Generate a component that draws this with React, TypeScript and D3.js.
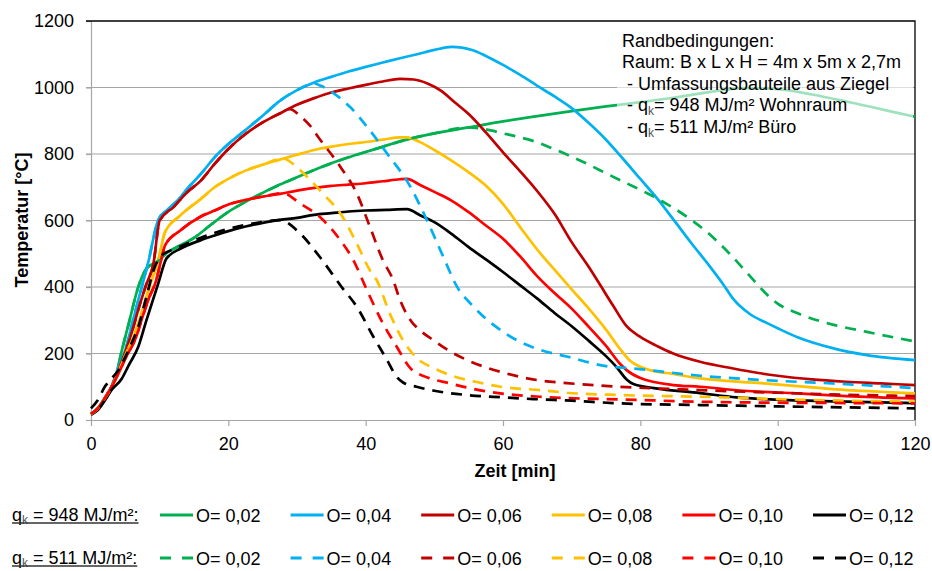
import React, { useEffect, useRef } from 'react';
import * as d3 from 'd3';

type Pt = [number, number];

// axis ticks
const xTicks = [0, 20, 40, 60, 80, 100, 120];
const yTicks = [0, 200, 400, 600, 800, 1000, 1200];

// q_k = 948 MJ/m² (solid), [Zeit min, Temperatur °C]
const o002_948: Pt[] = [[0,18],[1,35],[2,65],[3,100],[3.7,140],[4.5,210],[5.5,290],[6.9,401],[8.1,456],[9.6,476],[11.3,506],[13,525],[15,548],[17.5,588],[20,626],[22.5,656],[25,683],[27.5,708],[30,730],[32.5,752],[35,772],[37.5,790],[40,806],[42.5,822],[45,838],[50,862],[55,880],[60,898],[65,914],[70,929],[75,943],[80,956],[85,970],[90,986],[95,998],[100,995],[105,979],[110,958],[115,935],[120,912]];
const o004_948: Pt[] = [[0,18],[1,35],[2,65],[3,100],[4,160],[5,211],[6,290],[7,370],[8.3,471],[9.8,602],[11,630],[12.7,662],[14,695],[16,740],[18,790],[20,830],[22.5,872],[25,915],[27.5,960],[30,992],[32.5,1015],[35,1032],[37.5,1048],[40,1062],[42.5,1075],[45,1088],[47.5,1100],[50,1113],[52.5,1122],[54,1120],[55.5,1113],[57.5,1095],[60,1068],[62.5,1038],[65,1005],[67.5,973],[70,938],[72.5,893],[75,843],[77.5,785],[80,725],[82.5,665],[85,598],[87.5,530],[90,465],[92,410],[93.5,365],[96,318],[98.4,292],[100,276],[103,248],[108,216],[113,195],[120,180]];
const o006_948: Pt[] = [[0,18],[1,35],[2,65],[3,100],[4,150],[5,205],[5.9,261],[7,340],[8,405],[9.1,471],[10,600],[12,640],[14,685],[16,720],[18,770],[20,815],[22.5,860],[25,895],[27.5,922],[30,948],[32.5,968],[35,985],[37.5,997],[40,1008],[42.5,1018],[45,1026],[47,1024],[49,1012],[51,990],[53,955],[55,920],[57.5,865],[60,805],[62.5,748],[65,688],[67.5,620],[70,535],[72.5,460],[74,411],[76,345],[78,282],[80,250],[82.5,222],[84.8,200],[88.7,175],[93.5,155],[97,142],[100,133],[105,122],[110,115],[115,110],[120,105]];
const o008_948: Pt[] = [[0,18],[1,35],[2,65],[3,100],[4,145],[5,195],[6.4,261],[7.5,330],[8.5,400],[9.8,481],[10.8,566],[13,615],[16,665],[18,700],[20,725],[22.5,750],[25,768],[27.5,783],[30,798],[32.5,812],[35,822],[37.5,830],[40,836],[42.5,843],[45,850],[46,850],[48,835],[50,812],[52.5,780],[55,745],[57.5,705],[60,650],[62.5,580],[65,512],[67.5,452],[70,393],[72.5,335],[75,272],[77,215],[78.5,178],[80,160],[81.4,150],[85,138],[88.7,125],[93,117],[98,110],[105,98],[110,90],[115,85],[120,80]];
const o010_948: Pt[] = [[0,18],[1,35],[2,65],[3,100],[4,140],[5,185],[6.6,251],[7.5,310],[8.5,370],[9.5,420],[10.2,480],[10.8,526],[13,570],[16,612],[18,630],[20,648],[22.5,662],[25,672],[27.5,680],[30,690],[32.5,698],[35,704],[37.5,708],[40,712],[42.5,718],[45,724],[46,725],[48,706],[50,686],[52.5,660],[55,625],[57.5,585],[60,545],[62.5,492],[65,432],[67.5,382],[70,335],[72.5,280],[75,223],[77,170],[78,150],[80,126],[84.8,105],[88.7,100],[95,88],[103,80],[110,72],[120,65]];
const o012_948: Pt[] = [[0,16],[1,30],[2,58],[3,90],[4.5,125],[5.5,165],[6.9,221],[8,295],[9,360],[9.8,411],[11,486],[13,515],[16,541],[18,555],[20,568],[22.5,582],[25,593],[27.5,602],[30,608],[32.5,617],[35,622],[37.5,627],[40,630],[43,632],[46,634],[48,615],[50,595],[52.5,560],[55,520],[57.5,483],[60,445],[62.5,405],[65,365],[67.5,322],[70,282],[72.5,238],[75,192],[76.5,160],[78,122],[79,108],[82,96],[88.7,81],[94,68],[100,61],[110,55],[120,51]];

// q_k = 511 MJ/m² (dashed)
const o002_511: Pt[] = [[0,18],[1,35],[2,65],[3,100],[3.7,140],[4.5,210],[5.5,290],[6.9,401],[8.1,456],[9.6,476],[11.3,506],[13,525],[15,548],[17.5,588],[20,626],[22.5,656],[25,683],[27.5,708],[30,730],[32.5,752],[35,772],[37.5,790],[40,806],[42.5,822],[45,838],[50,862],[55,880],[57.5,874],[60,862],[62.5,850],[65,835],[67.5,814],[70,792],[72.5,768],[75,742],[78,712],[81,682],[84,648],[87,608],[90,560],[93,500],[96,432],[98.4,378],[100,350],[103,320],[108,287],[113,265],[120,236]];
const o004_511: Pt[] = [[0,18],[1,35],[2,65],[3,100],[4,160],[5,211],[6,290],[7,370],[8.3,471],[9.8,602],[11,630],[12.7,662],[14,695],[16,740],[18,790],[20,830],[22.5,872],[25,915],[27.5,960],[30,992],[32.5,1012],[33.5,1005],[35.5,980],[37.7,942],[40.2,882],[43.1,802],[46.5,702],[48.9,602],[51.3,491],[53.3,401],[55.7,341],[59.6,271],[62,240],[65.4,211],[69.3,191],[75,162],[79,155],[88.7,133],[98,120],[108,110],[120,96]];
const o006_511: Pt[] = [[0,18],[1,35],[2,65],[3,100],[4,150],[5,205],[5.9,261],[7,340],[8,405],[9.1,471],[10,600],[12,640],[14,685],[16,720],[18,770],[20,815],[22.5,860],[25,895],[27.5,922],[29,935],[30.4,915],[31.9,885],[33.3,845],[36.3,762],[38.7,682],[40.6,582],[42.5,481],[44,421],[45,361],[46.5,301],[48,268],[49.8,241],[52,210],[54.8,180],[59.6,145],[65,120],[69.3,111],[77,100],[88.7,90],[100,82],[110,76],[120,72]];
const o008_511: Pt[] = [[0,18],[1,35],[2,65],[3,100],[4,145],[5,195],[6.4,261],[7.5,330],[8.5,400],[9.8,481],[10.8,566],[13,615],[16,665],[18,700],[20,725],[22.5,750],[25,768],[28,786],[30,760],[32,720],[34,676],[36.3,622],[38.7,531],[40.6,451],[41.6,421],[43.5,321],[45.4,241],[47.4,187],[50,155],[52.3,135],[56,115],[59.6,100],[65.4,90],[69.3,82],[77,75],[88.7,70],[100,63],[110,58],[120,55]];
const o010_511: Pt[] = [[0,18],[1,35],[2,65],[3,100],[4,140],[5,185],[6.6,251],[7.5,310],[8.5,370],[9.5,420],[10.2,480],[10.8,526],[13,570],[16,612],[18,630],[20,648],[22.5,662],[25,672],[28,682],[30.4,652],[33.3,611],[36.3,541],[38.2,481],[40.2,390],[42.5,291],[44.5,221],[46.5,156],[49,128],[52.3,110],[56,92],[59.6,80],[65.4,70],[69.3,66],[77,62],[88.7,55],[100,52],[110,51],[120,50]];
const o012_511: Pt[] = [[0,35],[1,60],[2,100],[3,125],[4,150],[5,190],[6,235],[6.9,281],[8,365],[9.3,461],[10.3,495],[11.7,511],[13,522],[16,548],[20,575],[24,592],[27.5,601],[30.4,562],[33.3,491],[36.5,400],[38.7,341],[41.1,251],[43.1,181],[44.5,130],[45.5,112],[47.4,100],[50,88],[54.8,75],[60,68],[64.4,63],[70,58],[77,50],[88.7,45],[100,41],[110,38],[120,35]];

const series948 = [o002_948, o004_948, o006_948, o008_948, o010_948, o012_948];
const series511 = [o002_511, o004_511, o006_511, o008_511, o010_511, o012_511];

const oLabels = ['O= 0,02', 'O= 0,04', 'O= 0,06', 'O= 0,08', 'O= 0,10', 'O= 0,12'];
const qkRows = [' = 948 MJ/m²:', ' = 511 MJ/m²:'];
const colors = ['#00B050', '#00B0F0', '#C00000', '#FFC000', '#FF0000', '#000000'];

const FONT = '"Liberation Sans", Arial, sans-serif';

function Chart() {
  const svgRef = useRef<SVGSVGElement>(null);

  useEffect(() => {
    const width = 932;
    const height = 571;
    const plot = { left: 91, right: 915, top: 21, bottom: 420 };

    const svg = d3.select(svgRef.current)
      .attr('width', width)
      .attr('height', height)
      .style('font-family', FONT);
    svg.selectAll('*').remove();

    const x = d3.scaleLinear().domain([0, 120]).range([plot.left, plot.right]);
    const y = d3.scaleLinear().domain([0, 1200]).range([plot.bottom, plot.top]);

    // gridlines
    svg.append('g')
      .selectAll('line')
      .data(yTicks.filter(d => d > 0 && d < 1200))
      .enter().append('line')
      .attr('x1', plot.left - 5)
      .attr('x2', plot.right)
      .attr('y1', d => y(d))
      .attr('y2', d => y(d))
      .attr('stroke', '#a6a6a6')
      .attr('stroke-width', 1.2);

    // axes
    const xAxis = svg.append('g')
      .attr('transform', `translate(0,${plot.bottom})`)
      .call(d3.axisBottom(x).tickValues(xTicks).tickFormat(d3.format('d')).tickSize(6).tickSizeOuter(0).tickPadding(11));
    const yAxis = svg.append('g')
      .attr('transform', `translate(${plot.left},0)`)
      .call(d3.axisLeft(y).tickValues(yTicks).tickFormat(d3.format('d')).tickSize(5).tickSizeOuter(0).tickPadding(12));
    [xAxis, yAxis].forEach(g => {
      g.selectAll('path, line').attr('stroke', '#a6a6a6').attr('stroke-width', 1.2);
      g.selectAll('text').attr('fill', '#000').style('font-size', '18px').style('font-family', FONT);
    });

    // frame top and right
    svg.append('path')
      .attr('d', `M${plot.left - 5},${plot.top}H${plot.right}V${plot.bottom}`)
      .attr('fill', 'none')
      .attr('stroke', '#000')
      .attr('stroke-width', 1.3);

    const line = d3.line<Pt>()
      .x(d => x(d[0]))
      .y(d => y(d[1]))
      .curve(d3.curveMonotoneX);

    svg.append('g')
      .selectAll('path')
      .data(series948)
      .enter().append('path')
      .attr('d', d => line(d))
      .attr('fill', 'none')
      .attr('stroke', (d, i) => colors[i])
      .attr('stroke-width', 2.7)
      .attr('stroke-linejoin', 'round');

    svg.append('g')
      .selectAll('path')
      .data(series511)
      .enter().append('path')
      .attr('d', d => line(d))
      .attr('fill', 'none')
      .attr('stroke', (d, i) => colors[i])
      .attr('stroke-width', 2.7)
      .attr('stroke-dasharray', '11,8');

    // info box
    svg.append('rect')
      .attr('x', 617).attr('y', 27)
      .attr('width', 296).attr('height', 114)
      .attr('fill', '#fff')
      .attr('fill-opacity', 0.62);

    const info = svg.append('g').style('font-size', '18px').attr('fill', '#000');
    info.append('text').attr('x', 622).attr('y', 47).text('Randbedingungen:');
    info.append('text').attr('x', 622).attr('y', 68).text('Raum: B x L x H = 4m x 5m x 2,7m');
    info.append('text').attr('x', 627).attr('y', 90).text('- Umfassungsbauteile aus Ziegel');
    [['= 948 MJ/m² Wohnraum', 111], ['= 511 MJ/m² Büro', 133]].forEach(([t, yy]) => {
      const txt = info.append('text').attr('x', 627).attr('y', yy as number);
      txt.append('tspan').text('- q');
      txt.append('tspan').attr('dy', 4).style('font-size', '12px').attr('fill', '#555').text('k');
      txt.append('tspan').attr('dy', -4).text(t as string);
    });

    // axis titles
    svg.append('text')
      .attr('transform', 'translate(22,220) rotate(-90)')
      .attr('text-anchor', 'middle')
      .attr('dominant-baseline', 'central')
      .style('font-size', '18px')
      .style('font-weight', 'bold')
      .text('Temperatur [°C]');

    svg.append('text')
      .attr('x', 515).attr('y', 477)
      .attr('text-anchor', 'middle')
      .style('font-size', '18px')
      .style('font-weight', 'bold')
      .text('Zeit [min]');

    // legend
    const rowY = [515, 558];
    const itemX = d3.scaleLinear().domain([0, 5]).range([160, 813]);
    qkRows.forEach((label, r) => {
      const g = svg.append('g').attr('transform', `translate(0,${rowY[r]})`);
      const t = g.append('text').attr('x', 12).attr('y', 6).style('font-size', '18px');
      t.append('tspan').text('q');
      t.append('tspan').attr('dy', 3).style('font-size', '12px').attr('fill', '#555').text('k');
      t.append('tspan').attr('dy', -3).text(label);
      const w = (t.node() as SVGTextElement).getComputedTextLength();
      g.append('line')
        .attr('x1', 12).attr('x2', 12 + w)
        .attr('y1', 8).attr('y2', 8)
        .attr('stroke', '#333').attr('stroke-width', 1.4);

      oLabels.forEach((o, i) => {
        const lx = itemX(i);
        g.append('line')
          .attr('x1', lx).attr('x2', lx + 33)
          .attr('y1', 0).attr('y2', 0)
          .attr('stroke', colors[i])
          .attr('stroke-width', 3)
          .attr('stroke-dasharray', r === 1 ? '11,11' : null);
        g.append('text')
          .attr('x', lx + 36).attr('y', 6.5)
          .style('font-size', '18px')
          .text(o);
      });
    });
  }, []);

  return <svg ref={svgRef} style={{ position: 'absolute', left: 0, top: 0 }}></svg>;
}

export default function App() {
  return <Chart />;
}
